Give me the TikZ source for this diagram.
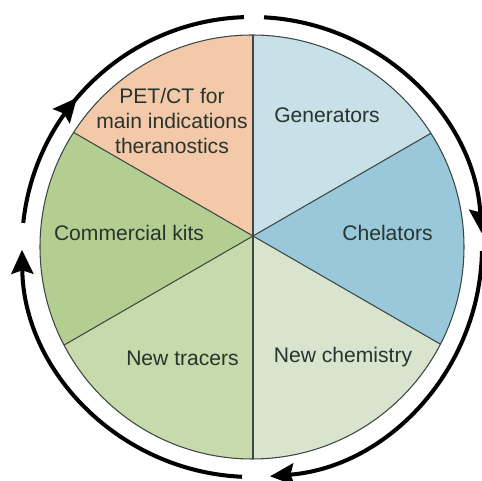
\documentclass[tikz,border=0pt]{standalone}
\usepackage{fontspec}
\setmainfont{Liberation Sans}
\usetikzlibrary{arrows.meta,decorations.markings}
\definecolor{petcol}{RGB}{243,201,170}
\definecolor{gencol}{RGB}{200,224,231}
\definecolor{chelcol}{RGB}{152,200,218}
\definecolor{chemcol}{RGB}{217,228,207}
\definecolor{tracercol}{RGB}{199,218,171}
\definecolor{kitcol}{RGB}{180,206,146}
\definecolor{txtcol}{RGB}{40,52,46}
\definecolor{rimcol}{RGB}{60,70,66}

\begin{document}
\begin{tikzpicture}[>={Stealth[length=4.8mm,width=4.4mm,inset=0.7mm]},
  lab/.style={text=txtcol,font=\fontsize{12}{14.2}\selectfont,align=center},
  ring/.style={line width=2.3pt}]
\useasboundingbox (-5.04,-4.68) rectangle (4.60,4.94);
\coordinate (C) at (0,0);
\coordinate (H) at (0.02,0.22);
\begin{scope}
\clip (C) circle (4.24);
\foreach \s/\col in {-90/chemcol,-30/chelcol,30/gencol,90/petcol,150/kitcol,210/tracercol}
  \fill[\col] (H) -- +(\s:6) -- +(\s+60:6) -- cycle;
\foreach \s in {-90,-30,...,210}
  \draw[rimcol,line width=0.6pt] (H) -- +(\s:6);
\end{scope}
\draw[rimcol,line width=0.6pt] (C) circle (4.24);
\draw[ring,->] (C) ++(87:4.6) arc (87:3.5:4.6);
\draw[ring,->] (C) ++(-1:4.6) arc (-1:-85.5:4.6);
\draw[ring,->] (C) ++(-92.5:4.6) arc (-92.5:-179.3:4.6);
\draw[ring,postaction=decorate,
  decoration={markings,mark=at position 0.42 with {\arrow{>}}}]
  (C) ++(174:4.6) arc (174:92:4.6);
\node[lab] (pet) at (-1.60,2.52) {PET/CT for\\main indications\\theranostics};
\node[lab] (gen) at (1.50,2.64) {Generators};
\node[lab] (chel) at (2.71,0.28) {Chelators};
\node[lab] (kits) at (-2.46,0.28) {Commercial kits};
\node[lab] (trac) at (-1.39,-2.22) {New tracers};
\node[lab] (chem) at (1.82,-2.20) {New chemistry};
\end{tikzpicture}
\end{document}
